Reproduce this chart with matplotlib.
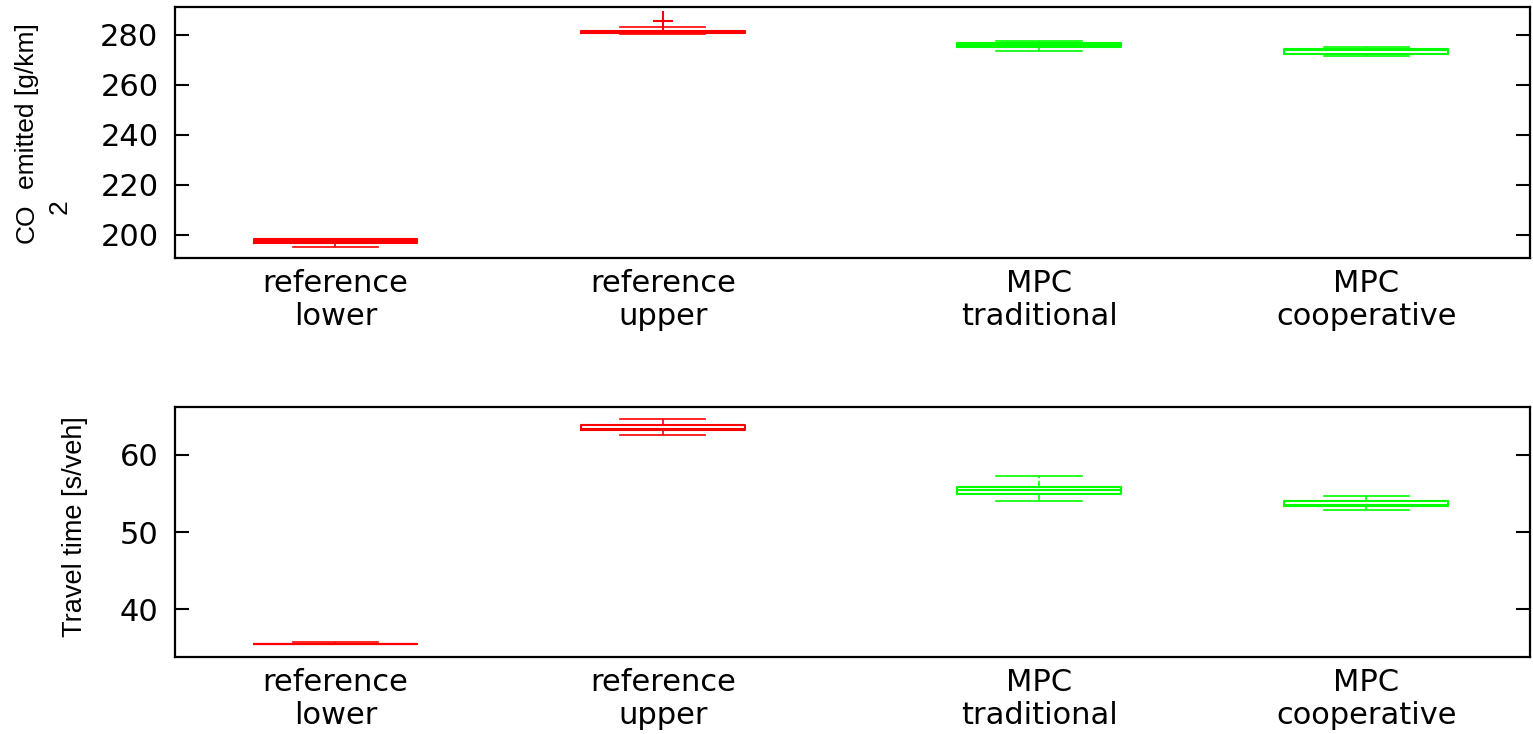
import matplotlib
matplotlib.use("Agg")
import matplotlib.pyplot as plt

# Categories and box statistics (CO2 emissions and travel time per scenario)
categories = ["reference\nlower", "reference\nupper", "MPC\ntraditional", "MPC\ncooperative"]
colors = ["#ff0000", "#ff0000", "#00ff00", "#00ff00"]

co2_whislo = [195.1, 280.2, 273.7, 271.4]
co2_q1 = [196.9, 280.6, 275.2, 272.3]
co2_med = [197.6, 281.0, 276.0, 274.1]
co2_q3 = [198.3, 281.6, 276.6, 274.3]
co2_whishi = [198.3, 283.2, 277.6, 275.3]
co2_fliers = [[], [285.5], [], []]

tt_whislo = [35.45, 62.58, 54.06, 52.87]
tt_q1 = [35.48, 63.19, 54.95, 53.42]
tt_med = [35.5, 63.35, 55.4, 53.55]
tt_q3 = [35.52, 63.83, 55.85, 54.0]
tt_whishi = [35.72, 64.7, 57.25, 54.7]
tt_fliers = [[], [], [], []]

co2_ticks = [200, 220, 240, 260, 280]
tt_ticks = [40, 50, 60]

# layout
x_pos = [1, 2, 3.15, 4.15]
FS = 22
W, H = 1533, 734
LBL_FONT = ["Liberation Sans", "DejaVu Sans"]


def make_stats(lo, q1, med, q3, hi, fliers):
    return [dict(whislo=a, q1=b, med=c, q3=d, whishi=e, fliers=f)
            for a, b, c, d, e, f in zip(lo, q1, med, q3, hi, fliers)]


def draw_panel(ax, stats, ticks, ylim):
    bp = ax.bxp(stats, positions=x_pos, widths=0.5, capwidths=0.26,
                showfliers=True, manage_ticks=False)
    for i, c in enumerate(colors):
        bp["boxes"][i].set(color=c, linewidth=1.5)
        bp["medians"][i].set(color=c, linewidth=1.5)
        for j in (2 * i, 2 * i + 1):
            bp["whiskers"][j].set(color=c, linewidth=1.2, linestyle="--")
            bp["caps"][j].set(color=c, linewidth=1.2)
        bp["fliers"][i].set(marker="+", markeredgecolor=c, markersize=15,
                            markeredgewidth=1.5)

    ax.set_xlim(0.51, 4.65)
    ax.set_ylim(*ylim)
    ax.set_xticks(x_pos)
    ax.set_xticklabels(categories, fontsize=FS, linespacing=1.15)
    ax.set_yticks(ticks)
    ax.tick_params(axis="x", length=0, pad=8)
    ax.tick_params(axis="y", direction="in", length=10, width=1.5,
                   right=True, labelsize=FS, pad=12)
    for s in ax.spines.values():
        s.set_linewidth(1.6)


def vtext(x, y, s, size=19):
    # rotated label placed by its centre in pixel coordinates
    fig.text(x / W, 1 - y / H, s, rotation=90, ha="center", va="center",
             fontsize=size, family=LBL_FONT)


fig = plt.figure(figsize=(15.33, 7.34), dpi=100)
ax1 = fig.add_axes([0.1142, 0.6485, 0.8838, 0.342])
ax2 = fig.add_axes([0.1142, 0.1049, 0.8838, 0.3406])

draw_panel(ax1, make_stats(co2_whislo, co2_q1, co2_med, co2_q3, co2_whishi, co2_fliers),
           co2_ticks, (190.8, 291.2))
draw_panel(ax2, make_stats(tt_whislo, tt_q1, tt_med, tt_q3, tt_whishi, tt_fliers),
           tt_ticks, (33.8, 66.2))

# y labels: CO2 with a low-set subscript, travel time as a single string
vtext(27, 223, "CO")
vtext(60, 207, "2")
vtext(27, 106, "emitted [g/km]")
vtext(75, 527, "Travel time [s/veh]", size=19.5)

fig.savefig("out.png", dpi=100)
